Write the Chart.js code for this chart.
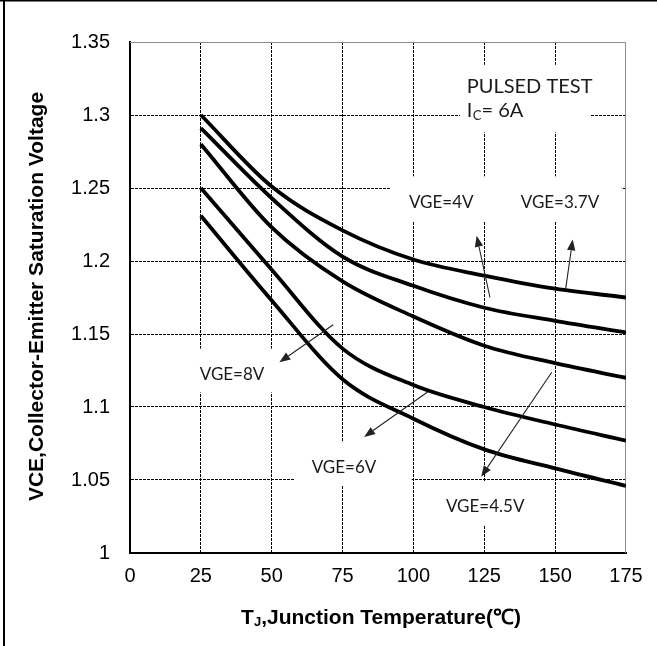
<!DOCTYPE html>
<html>
<head>
<meta charset="utf-8">
<script src="https://cdn.jsdelivr.net/npm/chart.js@4.4.0/dist/chart.umd.min.js"></script>
<style>
  html, body { margin: 0; padding: 0; background: #fff; }
</style>
</head>
<body>
<canvas id="chart" width="657" height="646"></canvas>
<script>
// junction temperature (°C)
const temps = [25, 50, 75, 100, 125, 150, 175];

// VCE(sat) per gate voltage
const vge37 = [1.300, 1.251, 1.221, 1.201, 1.190, 1.181, 1.175];
const vge4  = [1.291, 1.243, 1.203, 1.183, 1.168, 1.159, 1.151];
const vge45 = [1.280, 1.223, 1.186, 1.162, 1.142, 1.130, 1.120];
const vge6  = [1.250, 1.194, 1.140, 1.115, 1.100, 1.088, 1.077];
const vge8  = [1.231, 1.173, 1.119, 1.092, 1.071, 1.058, 1.046];

const seriesNames = ['VGE=3.7V', 'VGE=4V', 'VGE=4.5V', 'VGE=6V', 'VGE=8V'];
const seriesValues = [vge37, vge4, vge45, vge6, vge8];

const xTicks = [0, 25, 50, 75, 100, 125, 150, 175];
const yTicks = [1, 1.05, 1.1, 1.15, 1.2, 1.25, 1.3, 1.35];
const yTickLabels = ['1', '1.05', '1.1', '1.15', '1.2', '1.25', '1.3', '1.35'];

// annotation layout (data units)
const labelBoxes = [
    [116.4, 1.3344, 162.6, 1.2881],
    [91.7, 1.258, 173.5, 1.2273],
    [17.6, 1.140, 58.2, 1.110],
    [58.2, 1.0759, 99.4, 1.0466],
    [109.4, 1.0493, 141.1, 1.0193]
];
const curveLabels = [
    { text: 'VGE=3.7V', x: 151.7, y: 1.2398 },
    { text: 'VGE=4V', x: 109.8, y: 1.2398 },
    { text: 'VGE=4.5V', x: 125.3, y: 1.0316 },
    { text: 'VGE=6V', x: 75.5, y: 1.0588 },
    { text: 'VGE=8V', x: 36.0, y: 1.1222 }
];
const arrows = [
    [153.7, 1.1807, 156.2, 1.2148],
    [127.0, 1.1750, 122.3, 1.2173],
    [148.8, 1.1238, 123.9, 1.0522],
    [105.0, 1.1103, 82.6, 1.0795],
    [71.7, 1.1563, 52.7, 1.1306]
];

const labelFont = 'Lato, "Liberation Sans", sans-serif';
const axisFont = '"Liberation Sans", Arial, sans-serif';

function drawArrow(ctx, x1, y1, x2, y2) {
    const ang = Math.atan2(y2 - y1, x2 - x1);
    const len = 11, half = 4.2;
    const bx = x2 - len * Math.cos(ang);
    const by = y2 - len * Math.sin(ang);
    ctx.beginPath();
    ctx.moveTo(x1, y1);
    ctx.lineTo(bx, by);
    ctx.stroke();
    ctx.beginPath();
    ctx.moveTo(x2, y2);
    ctx.lineTo(bx + half * Math.sin(ang), by - half * Math.cos(ang));
    ctx.lineTo(bx - half * Math.sin(ang), by + half * Math.cos(ang));
    ctx.closePath();
    ctx.fill();
}

const decorations = {
    id: 'decorations',
    beforeDatasetsDraw(chart) {
        const ctx = chart.ctx;
        const xs = chart.scales.x, ys = chart.scales.y;
        const area = chart.chartArea;
        ctx.save();
        // white patches behind the labels
        ctx.fillStyle = '#fff';
        labelBoxes.forEach(b => {
            const x1 = xs.getPixelForValue(b[0]), y1 = ys.getPixelForValue(b[1]);
            const x2 = xs.getPixelForValue(b[2]), y2 = ys.getPixelForValue(b[3]);
            ctx.fillRect(x1, y1, x2 - x1, y2 - y1);
        });
        // thin grey top and right frame of the plot
        ctx.strokeStyle = '#8c8c8c';
        ctx.lineWidth = 1;
        ctx.beginPath();
        ctx.moveTo(area.left, area.top + 0.5);
        ctx.lineTo(area.right - 0.5, area.top + 0.5);
        ctx.lineTo(area.right - 0.5, area.bottom);
        ctx.stroke();
        ctx.restore();
    },
    afterDatasetsDraw(chart) {
        const ctx = chart.ctx;
        const xs = chart.scales.x, ys = chart.scales.y;
        ctx.save();
        ctx.fillStyle = '#222';
        ctx.strokeStyle = '#222';
        ctx.lineWidth = 1.1;
        arrows.forEach(a => {
            drawArrow(ctx, xs.getPixelForValue(a[0]), ys.getPixelForValue(a[1]),
                xs.getPixelForValue(a[2]), ys.getPixelForValue(a[3]));
        });

        ctx.fillStyle = '#1a1a1a';
        ctx.font = '17px ' + labelFont;
        ctx.textAlign = 'center';
        ctx.textBaseline = 'middle';
        curveLabels.forEach(l => {
            ctx.fillText(l.text, xs.getPixelForValue(l.x), ys.getPixelForValue(l.y));
        });

        // test condition note
        ctx.textAlign = 'left';
        ctx.textBaseline = 'alphabetic';
        const nx = xs.getPixelForValue(118.8);
        ctx.font = '20px ' + labelFont;
        ctx.fillText('PULSED TEST', nx, ys.getPixelForValue(1.3152));
        const by = ys.getPixelForValue(1.2988);
        ctx.fillText('I', nx, by);
        let cx = nx + ctx.measureText('I').width + 0.5;
        ctx.font = '13px ' + labelFont;
        ctx.fillText('C', cx, by + 3);
        cx += ctx.measureText('C').width;
        ctx.font = '20px ' + labelFont;
        ctx.fillText('= 6A', cx, by);
        ctx.restore();
    },
    afterDraw(chart) {
        const ctx = chart.ctx;
        const area = chart.chartArea;
        ctx.save();
        ctx.fillStyle = '#000';

        // y axis title
        ctx.save();
        ctx.translate(43, (area.top + area.bottom) / 2 - 1);
        ctx.rotate(-Math.PI / 2);
        ctx.font = 'bold 21px ' + axisFont;
        ctx.textAlign = 'center';
        ctx.textBaseline = 'alphabetic';
        ctx.fillText('VCE,Collector-Emitter Saturation Voltage', 0, 0);
        ctx.restore();

        // x axis title with subscript J
        const big = 'bold 21px ' + axisFont, small = 'bold 13px ' + axisFont;
        const rest = ',Junction Temperature(\u2103)';
        ctx.font = big;
        const wT = ctx.measureText('T').width, wR = ctx.measureText(rest).width;
        ctx.font = small;
        const wJ = ctx.measureText('J').width;
        let tx = 381 - (wT + wJ + wR) / 2;
        const ty = 624;
        ctx.textBaseline = 'alphabetic';
        ctx.textAlign = 'left';
        ctx.font = big;
        ctx.fillText('T', tx, ty);
        tx += wT;
        ctx.font = small;
        ctx.fillText('J', tx, ty + 2);
        tx += wJ;
        ctx.font = big;
        ctx.fillText(rest, tx, ty);

        // outer frame of the figure
        ctx.fillRect(3, 0, 2, chart.height);
        ctx.fillRect(0, 0, chart.width, 1.5);
        ctx.restore();
    }
};

new Chart(document.getElementById('chart'), {
    type: 'line',
    data: {
        datasets: seriesValues.map((vals, i) => ({
            label: seriesNames[i],
            data: temps.map((t, j) => ({ x: t, y: vals[j] })),
            borderColor: '#000',
            borderWidth: 3.8,
            pointRadius: 0,
            fill: false,
            cubicInterpolationMode: 'monotone'
        }))
    },
    options: {
        responsive: false,
        animation: false,
        devicePixelRatio: 1,
        layout: { padding: { left: 0, right: 31, top: 42, bottom: 0 } },
        plugins: {
            legend: { display: false },
            tooltip: { enabled: false }
        },
        scales: {
            x: {
                type: 'linear',
                min: 0,
                max: 175,
                afterBuildTicks: s => { s.ticks = xTicks.map(v => ({ value: v })); },
                afterFit: s => { s.height = 93; },
                ticks: {
                    color: '#000',
                    padding: 11,
                    maxRotation: 0,
                    font: { family: axisFont, size: 20 }
                },
                grid: {
                    drawTicks: false,
                    lineWidth: 1,
                    color: c => (c.tick && (c.tick.value === 0 || c.tick.value === 175)) ? 'rgba(0,0,0,0)' : '#000'
                },
                border: { color: '#000', width: 2, dash: [3, 1] }
            },
            y: {
                type: 'linear',
                min: 1,
                max: 1.35,
                afterBuildTicks: s => { s.ticks = yTicks.map(v => ({ value: v })); },
                afterFit: s => { s.width = 130; },
                ticks: {
                    color: '#000',
                    padding: 20,
                    font: { family: axisFont, size: 20 },
                    callback: (v, i) => yTickLabels[i]
                },
                grid: {
                    drawTicks: false,
                    lineWidth: 1,
                    color: c => (c.tick && (c.tick.value === 1 || c.tick.value === 1.35)) ? 'rgba(0,0,0,0)' : '#000'
                },
                border: { color: '#000', width: 2, dash: [3, 1] }
            }
        }
    },
    plugins: [decorations]
});
</script>
</body>
</html>
